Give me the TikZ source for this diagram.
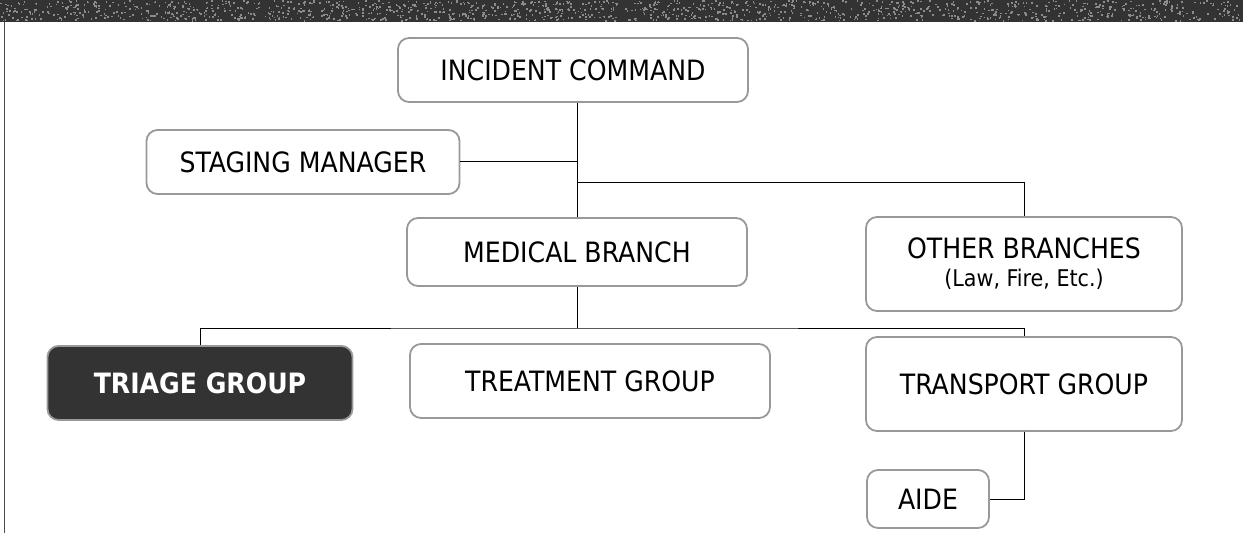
\documentclass[tikz,border=0pt]{standalone}
\usepackage{fontspec}
\setmainfont{DejaVu Sans Condensed}
\begin{document}
\begin{tikzpicture}[x=1pt,y=-1pt,
  orgbox/.style={draw=black!40, line width=1.8pt, rounded corners=11pt,
    fill=white, inner sep=0pt, align=center, font=\fontsize{28}{32}\selectfont},
  darkbox/.style={orgbox, fill=black!80, text=white, font=\fontsize{28}{32}\selectfont\bfseries},
  link/.style={draw=black, line width=1pt}]
  \useasboundingbox (0,0) rectangle (1243,533);
  % header band with a speckled texture, and the left rule
  \fill[black!80] (0,0) rectangle (1243,22);
  \pgfmathsetseed{7}
  \foreach \k in {1,...,1400}{
    \pgfmathsetmacro{\px}{rnd*1241}
    \pgfmathsetmacro{\py}{rnd*20}
    \fill[black!45] (\px,\py) rectangle ++(1.6,1.6);
  }
  \draw[black!70, line width=1pt] (4,22) -- (4,533);

  % boxes
  \node[orgbox, minimum width=350pt, minimum height=64pt] (ic) at (573,70) {INCIDENT COMMAND};
  \node[orgbox, minimum width=313pt, minimum height=64pt] (sm) at (303,162) {STAGING MANAGER};
  \node[orgbox, minimum width=340pt, minimum height=68pt] (mb) at (577,252) {MEDICAL BRANCH};
  \node[orgbox, minimum width=316pt, minimum height=94pt] (ob) at (1024,264)
    {OTHER BRANCHES\\[-4pt]{\fontsize{23}{26}\selectfont (Law, Fire, Etc.)}};
  \node[darkbox, minimum width=305pt, minimum height=74pt] (tg) at (200,383) {TRIAGE GROUP};
  \node[orgbox, minimum width=360pt, minimum height=74pt] (trg) at (590,381) {TREATMENT GROUP};
  \node[orgbox, minimum width=316pt, minimum height=94pt] (tpg) at (1024,384) {TRANSPORT GROUP};
  \node[orgbox, minimum width=122pt, minimum height=58pt] (aide) at (928,499) {AIDE};

  % junction points
  \coordinate (j1) at (577,161);
  \coordinate (j2) at (577,182);
  \coordinate (j3) at (577,328);

  % connectors
  \draw[link] (ic.south -| j1) -- (mb.north -| j1);
  \draw[link] (sm.east |- j1) -- (j1);
  \draw[link] (j2) -| (ob.north);
  \draw[link] (mb.south -| j3) -- (j3);
  \draw[link] (tg.north) |- (j3) -| (tpg.north);
  \draw[link] (tpg.south) |- (aide.east);
\end{tikzpicture}
\end{document}
